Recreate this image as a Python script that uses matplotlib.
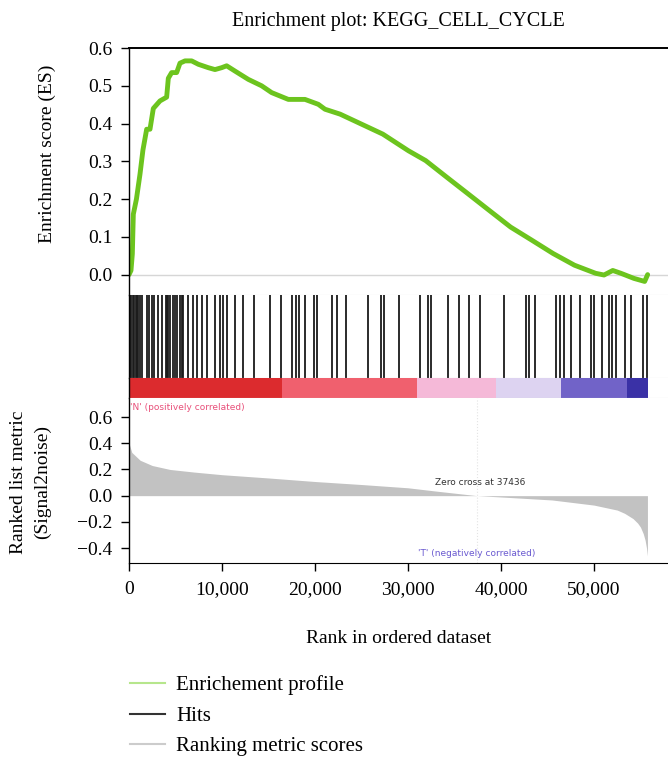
import matplotlib
matplotlib.use("Agg")
import matplotlib.pyplot as plt
from matplotlib.lines import Line2D
from matplotlib.ticker import FuncFormatter

plt.rcParams['font.family'] = ['Liberation Serif', 'DejaVu Serif']

# running enrichment score (rank, ES)
es_rank = [0, 215, 360, 466, 800, 1183, 1500, 1900, 2258, 2616, 2975, 3333,
           4050, 4229, 4588, 5125, 5484, 6022, 6738, 7455, 8530, 9247, 9964,
           10502, 11398, 12832, 14265, 15340, 17133, 18925, 20358, 21075,
           22700, 27300, 30050, 31900, 34170, 36460, 38740, 41030, 43330,
           45600, 47900, 50180, 51080, 52020, 52900, 54300, 55450, 55770]
es_val = [0.0, 0.011, 0.055, 0.16, 0.20, 0.266, 0.33, 0.385, 0.385, 0.44,
          0.45, 0.46, 0.47, 0.52, 0.535, 0.535, 0.56, 0.566, 0.566, 0.557,
          0.548, 0.543, 0.548, 0.553, 0.539, 0.517, 0.50, 0.482, 0.464,
          0.464, 0.451, 0.438, 0.425, 0.372, 0.328, 0.302, 0.258, 0.214,
          0.170, 0.126, 0.091, 0.056, 0.025, 0.0035, -0.001, 0.011, 0.0035,
          -0.01, -0.018, 0.0]

# positions of gene set members in the ranked list
hits = [100, 250, 400, 550, 700, 850, 1000, 1150, 1350, 1900, 2100, 2440,
        2720, 3150, 3510, 3940, 4100, 4230, 4410, 4770, 4950, 5120, 5480,
        5660, 5840, 6380, 6920, 7270, 7810, 8350, 9250, 9780, 10140, 10500,
        11400, 12290, 13400, 15180, 16350, 17520, 17910, 18300, 18880, 19860,
        20250, 21800, 22390, 23360, 25700, 27070, 27450, 29010, 31340, 32130,
        32520, 34270, 35440, 36610, 37770, 40310, 42650, 43030, 43620, 45960,
        46340, 46730, 47520, 48490, 49660, 50040, 50820, 51600, 51990, 52380,
        53350, 53940, 55300, 55690]

# ranked list metric (signal2noise)
metric_rank = [0, 300, 1200, 2500, 4400, 7000, 10000, 15000, 20000, 25000,
               30000, 33000, 37436, 40000, 45500, 50000, 52500, 53300, 54200,
               54700, 55000, 55300, 55500, 55650, 55750]
metric_val = [0.40, 0.33, 0.27, 0.23, 0.20, 0.18, 0.16, 0.135, 0.108, 0.085,
              0.06, 0.035, 0.0, -0.01, -0.033, -0.072, -0.11, -0.135, -0.175,
              -0.21, -0.24, -0.29, -0.34, -0.40, -0.46]

# heat band along the ranked list
band_edges = [0, 16500, 31000, 39500, 46500, 53500, 55800]
band_colors = ['#dc2b2e', '#f0606e', '#f5b9d8', '#ddd3f1', '#7163c8', '#3a31a6']

zero_cross = 37436
xmax = 57960

fig = plt.figure(figsize=(6.68, 7.59), dpi=100)
L, W = 0.1931, 0.8069
ax_es = fig.add_axes([L, 0.6113, W, 0.3254])
ax_hits = fig.add_axes([L, 0.5020, W, 0.1094])
ax_band = fig.add_axes([L, 0.4756, W, 0.0264])
ax_rank = fig.add_axes([L, 0.2582, W, 0.2174])

light = '#d6d6d6'
for ax in (ax_es, ax_hits, ax_band, ax_rank):
    ax.set_xlim(0, xmax)
    ax.spines['right'].set_visible(False)
    ax.spines['left'].set_linewidth(1.0)
    ax.tick_params(direction='out', length=6, width=1, labelsize=14, pad=6)
for ax in (ax_hits, ax_band, ax_rank):
    ax.spines['top'].set_visible(False)
for ax in (ax_es, ax_hits, ax_band):
    ax.spines['bottom'].set_color(light)
    ax.spines['bottom'].set_linewidth(0.8)
    ax.set_xticks([])

# ES panel
ax_es.plot(es_rank, es_val, color='#6cc41e', lw=3.5, solid_capstyle='round')
ax_es.axhline(0, color=light, lw=1, zorder=0)
ax_es.set_ylim(-0.054, 0.6)
ax_es.set_yticks([0.0, 0.1, 0.2, 0.3, 0.4, 0.5, 0.6])
ax_es.yaxis.set_major_formatter(FuncFormatter(lambda v, p: f"{v:.1f}"))
ax_es.spines['top'].set_linewidth(1.4)
ax_es.set_ylabel('Enrichment score (ES)', fontsize=14, va='center')
ax_es.yaxis.set_label_coords(-0.152, 0.57)
ax_es.set_title('Enrichment plot: KEGG_CELL_CYCLE', fontsize=14.5, pad=16)

# hits
ax_hits.vlines(hits, 0, 1, color='#1a1a1a', lw=1.3)
ax_hits.set_ylim(0, 1)
ax_hits.set_yticks([])

# colour band
for i, c in enumerate(band_colors):
    ax_band.axvspan(band_edges[i], band_edges[i + 1], color=c, lw=0)
ax_band.set_ylim(0, 1)
ax_band.set_yticks([])

# ranked metric
ax_rank.fill_between(metric_rank, 0, metric_val, color='#c2c2c2', lw=0)
ax_rank.axvline(zero_cross, color='#e4e4e4', lw=0.8, ls=':')
ax_rank.set_ylim(-0.514, 0.745)
ax_rank.set_yticks([-0.4, -0.2, 0.0, 0.2, 0.4, 0.6])
ax_rank.yaxis.set_major_formatter(FuncFormatter(lambda v, p: f"{v:.1f}".replace('-', '\u2212')))
ax_rank.set_xticks([0, 10000, 20000, 30000, 40000, 50000])
ax_rank.xaxis.set_major_formatter(FuncFormatter(lambda v, p: f"{int(v):,}"))
ax_rank.tick_params(axis='x', pad=7)
ax_rank.set_ylabel('Ranked list metric\n(Signal2noise)', fontsize=14, va='center',
                   linespacing=1.55)
ax_rank.yaxis.set_label_coords(-0.183, 0.49)
ax_rank.set_xlabel('Rank in ordered dataset', fontsize=14, va='center')
ax_rank.xaxis.set_label_coords(0.5, -0.455)

ax_rank.text(zero_cross + 300, 0.104, 'Zero cross at 37436', fontsize=6.5,
             family='DejaVu Sans', color='#333333', ha='center', va='center')
ax_rank.text(150, 0.676, "'N' (positively correlated)", fontsize=6.5,
             family='DejaVu Sans', color='#e8507a', ha='left', va='center')
ax_rank.text(zero_cross, -0.44, "'T' (negatively correlated)", fontsize=6.5,
             family='DejaVu Sans', color='#6a5ad0', ha='center', va='center')

# legend
handles = [Line2D([], [], color='#b6e68c', lw=1.5),
           Line2D([], [], color='#333333', lw=1.5),
           Line2D([], [], color='#cccccc', lw=1.5)]
labels = ['Enrichement profile', 'Hits', 'Ranking metric scores']
fig.legend(handles, labels, loc='upper left', bbox_to_anchor=(0.195, 0.11),
           frameon=False, fontsize=15, handlelength=1.65, handletextpad=0.55,
           labelspacing=0.52, borderaxespad=0, borderpad=0)

fig.savefig('out.png', dpi=100)
